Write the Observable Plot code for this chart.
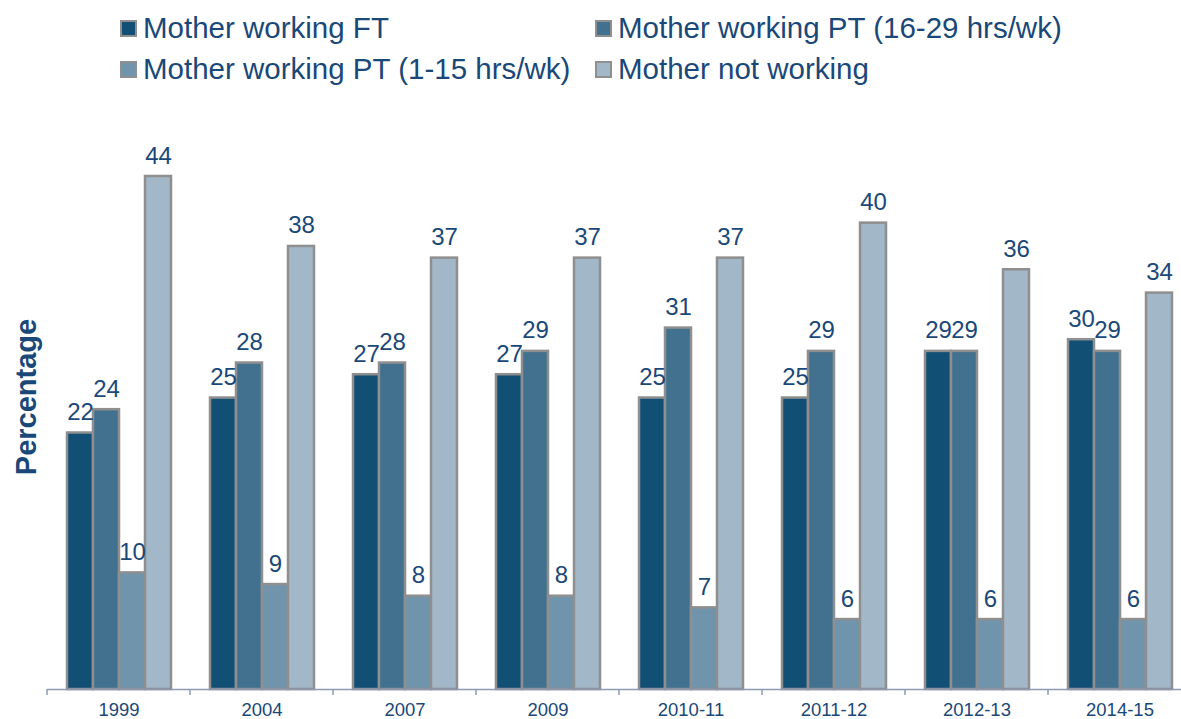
<!DOCTYPE html>
<html>
<head>
<meta charset="utf-8">
<script src="https://cdn.jsdelivr.net/npm/d3@7"></script>
<script src="https://cdn.jsdelivr.net/npm/@observablehq/plot@0.6"></script>
<style>
  html, body { margin: 0; padding: 0; background: #fff; }
  body { width: 1181px; height: 719px; overflow: hidden; font-family: "Liberation Sans", Arial, sans-serif; }
  #legend { position: relative; height: 100px; }
  .item { position: absolute; display: flex; align-items: center; height: 40px; font-size: 29.5px; color: #1a4878; white-space: nowrap; }
  .sw { width: 13px; height: 13px; border: 2px solid #8f8f8f; margin-right: 6px; }
</style>
</head>
<body>
<div id="legend"></div>
<div id="chart"></div>
<script>
const years = ["1999", "2004", "2007", "2009", "2010-11", "2011-12", "2012-13", "2014-15"];
const series = ["Mother working FT", "Mother working PT (16-29 hrs/wk)", "Mother working PT (1-15 hrs/wk)", "Mother not working"];
const colors = ["#124f75", "#41718f", "#7094ac", "#a2b7c7"];
const ftValues   = [22, 25, 27, 27, 25, 25, 29, 30];
const pt1629     = [24, 28, 28, 29, 31, 29, 29, 29];
const pt115      = [10, 9, 8, 8, 7, 6, 6, 6];
const notWorking = [44, 38, 37, 37, 37, 40, 36, 34];
const seriesValues = [ftValues, pt1629, pt115, notWorking];

const data = [];
years.forEach((yr, i) => series.forEach((s, j) => data.push({year: yr, series: s, value: seriesValues[j][i]})));

// Legend (HTML, above the SVG)
const legend = document.getElementById("legend");
const legendPos = [[120, 8], [595, 8], [120, 49], [595, 49]];
series.forEach((s, j) => {
  const it = document.createElement("div");
  it.className = "item";
  it.style.left = legendPos[j][0] + "px";
  it.style.top = legendPos[j][1] + "px";
  const sw = document.createElement("div");
  sw.className = "sw";
  sw.style.background = colors[j];
  const tx = document.createElement("span");
  tx.textContent = s;
  it.appendChild(sw); it.appendChild(tx);
  legend.appendChild(it);
});

const textColor = "#1a4878";
const plot = Plot.plot({
  width: 1181,
  height: 619,
  marginTop: 76,
  marginBottom: 30,
  marginLeft: 45,
  marginRight: 0,
  style: {fontFamily: "Liberation Sans, Arial, sans-serif", fontSize: "18.5px", color: textColor, background: "transparent", overflow: "visible"},
  fx: {domain: years, range: [44, 1194], padding: 0, label: null, tickSize: 0, tickPadding: 13},
  x: {domain: series, paddingInner: 0, paddingOuter: 0.73, axis: null},
  y: {domain: [0, 44], nice: false, ticks: [], label: "Percentage", labelAnchor: "center", labelOffset: 22},
  color: {domain: series, range: colors},
  marks: [
    Plot.barY(data, {fx: "year", x: "series", y: "value", fill: "series", stroke: "#8f8f8f", strokeWidth: 2.5}),
    Plot.ruleY([0], {stroke: "#8c9ab3", strokeWidth: 1.5}),
    Plot.text(data, {fx: "year", x: "series", y: "value", text: d => String(d.value), lineAnchor: "bottom", dy: -13, fontSize: 24, fill: textColor})
  ]
});
document.getElementById("chart").appendChild(plot);

// style the y-axis label (bold, larger, placed like the reference)
const svg = d3.select(plot);
svg.selectAll("text").filter(function() { return this.textContent.trim().startsWith("Percentage"); })
  .each(function() {
    const t = d3.select(this);
    t.selectAll("tspan").remove();
    t.text("Percentage")
      .attr("font-size", 29).attr("font-weight", "bold").attr("fill", "#1a4878")
      .attr("text-anchor", "middle").attr("dy", "0.35em")
      .attr("x", null).attr("y", null)
      .attr("transform", "translate(25.5,297) rotate(-90)");
    // undo any parent translate
    const p = this.parentNode;
    if (p && p.getAttribute && p.getAttribute("transform")) p.removeAttribute("transform");
  });

// boundary ticks on the category axis, from Plot's fx scale
const fx = plot.scale("fx");
const yScale = plot.scale("y");
const y0 = yScale.apply(0);
const bounds = years.map(y => fx.apply(y)).concat([fx.apply(years[years.length - 1]) + fx.step]);
svg.append("g").selectAll("line").data(bounds).join("line")
  .attr("x1", d => d).attr("x2", d => d)
  .attr("y1", y0).attr("y2", y0 + 6)
  .attr("stroke", "#8c9ab3").attr("stroke-width", 1.5);
</script>
</body>
</html>
